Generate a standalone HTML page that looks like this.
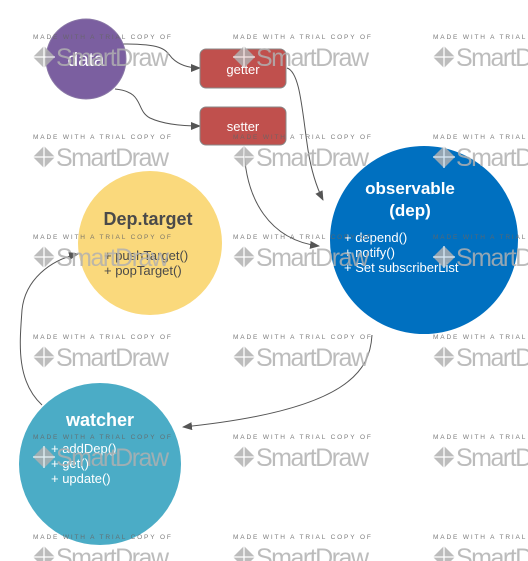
<!DOCTYPE html>
<html><head><meta charset="utf-8"><style>
html,body{margin:0;padding:0;background:#fff;width:528px;height:561px;overflow:hidden}
</style></head><body>
<svg width="528" height="561" viewBox="0 0 528 561" xmlns="http://www.w3.org/2000/svg" font-family="Liberation Sans, sans-serif">
<defs>
<marker id="a" markerWidth="10" markerHeight="8" refX="9" refY="4" orient="auto" markerUnits="userSpaceOnUse">
<path d="M0,0 L10,4 L0,8 z" fill="#555"/></marker>
<g id="wm">
<text x="0" y="0" font-size="6.5" fill="#666" letter-spacing="1.85">MADE WITH A TRIAL COPY OF</text>
<path d="M11,7 L22,18 L11,29 L0,18 z" fill="#b0b0b0"/>
<path d="M11,7 L11,29 M0,18 L22,18" stroke="#fff" stroke-width="1.3"/>
<text x="23" y="27" font-size="25" fill="#b0b0b0" letter-spacing="-1.5">SmartDraw</text>
</g>
</defs>
<g fill="none" stroke="#555" stroke-width="1">
<path d="M123,44 C165,44 165,50 172,58 C180,66 190,68 200,68" marker-end="url(#a)"/>
<path d="M115,89 C145,92 135,110 150,118 C165,125 185,126 200,126" marker-end="url(#a)"/>
<path d="M287,68 C300,72 302,110 308,150 C312,175 318,190 323,200" marker-end="url(#a)"/>
<path d="M244,146 C245,200 270,240 319,246" marker-end="url(#a)"/>
<path d="M372,335 C370,370 350,410 183,427" marker-end="url(#a)"/>
<path d="M42,405 C15,380 20,340 22,310 C25,280 50,260 78,254" marker-end="url(#a)"/>
</g>
<circle cx="86" cy="59" r="40" fill="#7b5fa0" stroke="#8a78a6" stroke-width="1"/>
<text x="86" y="66" font-size="19" fill="#fff" text-anchor="middle">data</text>
<rect x="200" y="49" width="86" height="39" rx="6" fill="#c0504d" stroke="#888"/>
<text x="243" y="74" font-size="13" fill="#fff" text-anchor="middle">getter</text>
<rect x="200" y="107" width="86" height="38" rx="6" fill="#c0504d" stroke="#888"/>
<text x="243" y="131" font-size="13" fill="#fff" text-anchor="middle">setter</text>
<circle cx="424" cy="240" r="94" fill="#0070c0"/>
<text x="410" y="194" font-size="17" font-weight="bold" fill="#fff" text-anchor="middle">observable</text>
<text x="410" y="216" font-size="17" font-weight="bold" fill="#fff" text-anchor="middle">(dep)</text>
<g font-size="13" fill="#fff"><text x="344" y="242">+ depend()</text><text x="344" y="257">+ notify()</text><text x="344" y="272">+  Set subscriberList</text></g>
<circle cx="150" cy="243" r="72" fill="#fad97c"/>
<text x="148" y="225" font-size="18" font-weight="bold" fill="#4a4a4a" text-anchor="middle">Dep.target</text>
<g font-size="13" fill="#4a4a4a"><text x="104" y="260">+ pushTarget()</text><text x="104" y="275">+ popTarget()</text></g>
<circle cx="100" cy="464" r="81" fill="#4bacc6"/>
<text x="100" y="426" font-size="18" font-weight="bold" fill="#fff" text-anchor="middle">watcher</text>
<g font-size="13" fill="#fff"><text x="51" y="453">+ addDep()</text><text x="51" y="468">+ get()</text><text x="51" y="483">+ update()</text></g>
<g opacity="0.85">
<use href="#wm" x="33" y="39"/><use href="#wm" x="233" y="39"/><use href="#wm" x="433" y="39"/>
<use href="#wm" x="33" y="139"/><use href="#wm" x="233" y="139"/><use href="#wm" x="433" y="139"/>
<use href="#wm" x="33" y="239"/><use href="#wm" x="233" y="239"/><use href="#wm" x="433" y="239"/>
<use href="#wm" x="33" y="339"/><use href="#wm" x="233" y="339"/><use href="#wm" x="433" y="339"/>
<use href="#wm" x="33" y="439"/><use href="#wm" x="233" y="439"/><use href="#wm" x="433" y="439"/>
<use href="#wm" x="33" y="539"/><use href="#wm" x="233" y="539"/><use href="#wm" x="433" y="539"/>
</g>
</svg>
</body></html>
